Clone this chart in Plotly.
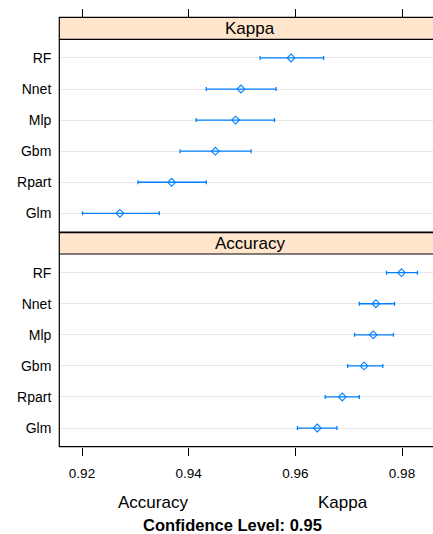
import plotly.graph_objects as go

# Resampling summary: 95% confidence intervals per model and metric
models = ["Glm", "Rpart", "Gbm", "Mlp", "Nnet", "RF"]

kappa_mean = [0.9271, 0.9368, 0.9450, 0.9488, 0.9498, 0.9592]
kappa_low = [0.9201, 0.9305, 0.9384, 0.9414, 0.9433, 0.9534]
kappa_high = [0.9345, 0.9433, 0.9517, 0.9561, 0.9564, 0.9653]

acc_mean = [0.9641, 0.9688, 0.9729, 0.9746, 0.9751, 0.9799]
acc_low = [0.9604, 0.9656, 0.9698, 0.9711, 0.9720, 0.9771]
acc_high = [0.9678, 0.9720, 0.9764, 0.9784, 0.9786, 0.9829]

x_ticks = [0.92, 0.94, 0.96, 0.98]
tick_text = ["0.92", "0.94", "0.96", "0.98"]

W, H = 433, 534
FONT = "Liberation Sans, Arial, sans-serif"
BLUE = "#0080ff"
STRIP = "#ffe5cc"


def px_x(p):
    return p / W


def px_y(p):
    return 1 - p / H


# x scale: 0.92 sits at 82 px, 0.02 spans 106.67 px
ppu = 106.667 / 0.02
panel_left, panel_right = 59.3, 440.7
x_range = [0.92 - (82 - panel_left) / ppu, 0.92 + (W - 82) / ppu]

fig = go.Figure()


def add_panel(mean, low, high, xa, ya):
    fig.add_trace(go.Scatter(
        x=mean, y=models, xaxis=xa, yaxis=ya, mode="markers",
        marker=dict(symbol="diamond-open", size=6, color=BLUE,
                    line=dict(width=1.1, color=BLUE)),
        error_x=dict(type="data", symmetric=False,
                     array=[h - m for h, m in zip(high, mean)],
                     arrayminus=[m - l for m, l in zip(mean, low)],
                     color=BLUE, thickness=1.3, width=2),
        showlegend=False, hoverinfo="x+y",
    ))


add_panel(kappa_mean, kappa_low, kappa_high, "x", "y")
add_panel(acc_mean, acc_low, acc_high, "x2", "y2")
# carrier for the tick row above the top strip
fig.add_trace(go.Scatter(x=[], y=[], xaxis="x3", yaxis="y", showlegend=False))

# panel geometry in pixels
k_strip_top, k_panel_top, k_panel_bot = 17.3, 39.3, 232.0
a_strip_top, a_panel_top, a_panel_bot = 232.7, 254.0, 446.7

yax = dict(type="category", categoryorder="array", categoryarray=models,
           range=[-0.6, len(models) - 0.4], showgrid=True, gridcolor="#e6e6e6",
           gridwidth=1.3, zeroline=False, showline=False, ticks="",
           tickfont=dict(family=FONT, size=14, color="#000"),
           ticklabelstandoff=7, automargin=False, fixedrange=True)
xbase = dict(range=x_range, tickvals=x_ticks, ticktext=tick_text,
             showgrid=False, zeroline=False, showline=False, automargin=False,
             domain=[px_x(panel_left), 1], fixedrange=True)

fig.update_layout(
    width=W, height=H,
    margin=dict(l=0, r=0, t=0, b=0),
    paper_bgcolor="white", plot_bgcolor="white",
    font=dict(family=FONT, color="#000"),
    xaxis=dict(xbase, anchor="y", showticklabels=False, ticks=""),
    yaxis=dict(yax, anchor="x", domain=[px_y(k_panel_bot), px_y(k_panel_top)]),
    xaxis2=dict(xbase, anchor="y2", ticks="outside", ticklen=8, tickwidth=1,
                tickcolor="#000", ticklabelstandoff=6,
                tickfont=dict(family=FONT, size=13.5, color="#000")),
    yaxis2=dict(yax, anchor="x2", domain=[px_y(a_panel_bot), px_y(a_panel_top)]),
    xaxis3=dict(xbase, overlaying="x", anchor="free", position=px_y(k_strip_top),
                side="top", ticks="outside", ticklen=8, tickwidth=1,
                tickcolor="#000", showticklabels=False),
)

shapes = []
for top, mid, bot in [(k_strip_top, k_panel_top, k_panel_bot),
                      (a_strip_top, a_panel_top, a_panel_bot)]:
    # strip background
    shapes.append(dict(type="rect", xref="paper", yref="paper",
                       x0=px_x(panel_left), x1=px_x(panel_right),
                       y0=px_y(mid), y1=px_y(top), fillcolor=STRIP,
                       line=dict(width=0), layer="below"))
    # strip / panel divider
    shapes.append(dict(type="line", xref="paper", yref="paper",
                       x0=px_x(panel_left), x1=px_x(panel_right),
                       y0=px_y(mid), y1=px_y(mid),
                       line=dict(color="#000", width=1.2), layer="above"))
    # outer frame
    shapes.append(dict(type="rect", xref="paper", yref="paper",
                       x0=px_x(panel_left), x1=px_x(panel_right),
                       y0=px_y(bot), y1=px_y(top), fillcolor="rgba(0,0,0,0)",
                       line=dict(color="#000", width=1.2), layer="above"))
fig.update_layout(shapes=shapes)

strip_cx = px_x((panel_left + panel_right) / 2)
annotations = [
    dict(text="Kappa", x=strip_cx, y=px_y((k_strip_top + k_panel_top) / 2), size=17),
    dict(text="Accuracy", x=strip_cx, y=px_y((a_strip_top + a_panel_top) / 2), size=17),
    dict(text="Accuracy", x=px_x(153), y=px_y(502.5), size=17),
    dict(text="Kappa", x=px_x(343), y=px_y(502.5), size=17),
    dict(text="<b>Confidence Level: 0.95</b>", x=px_x(233), y=px_y(524.5), size=16.5),
]
for a in annotations:
    size = a.pop("size")
    fig.add_annotation(xref="paper", yref="paper", showarrow=False,
                       xanchor="center", yanchor="middle",
                       font=dict(family=FONT, size=size, color="#000"), **a)

fig.write_html("out.html")
